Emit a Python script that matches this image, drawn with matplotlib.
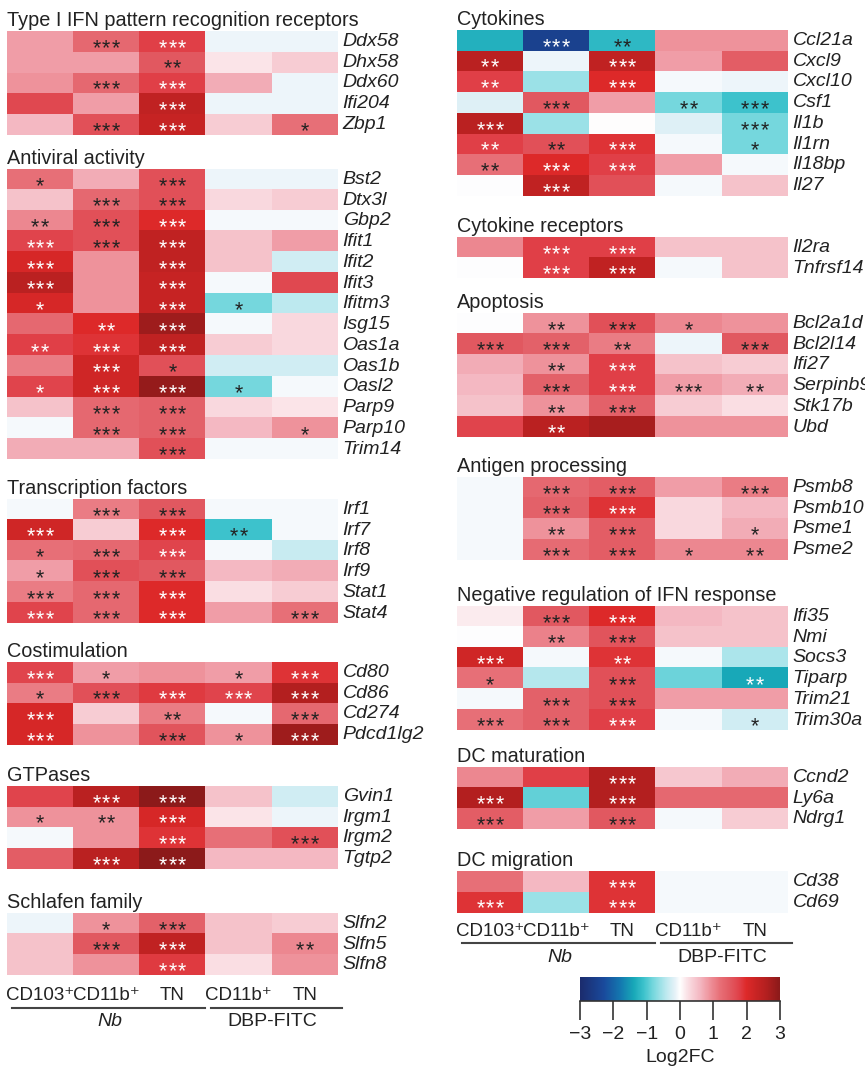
import matplotlib
matplotlib.use('Agg')
import matplotlib.pyplot as plt
import numpy as np
from matplotlib.colors import LinearSegmentedColormap

plt.rcParams['font.family'] = ['Liberation Sans', 'DejaVu Sans']

# columns: Nb CD103+, Nb CD11b+, Nb TN, DBP-FITC CD11b+, DBP-FITC TN
ifn_genes = ['Ddx58', 'Dhx58', 'Ddx60', 'Ifi204', 'Zbp1']
ifn_vals = [[0.8, 1.3, 1.8, -0.1, -0.1],
            [0.8, 0.8, 1.5, 0.2, 0.4],
            [0.9, 1.3, 1.8, 0.7, -0.1],
            [1.7, 0.8, 2.4, -0.1, -0.1],
            [0.6, 1.6, 2.3, 0.4, 1.2]]
ifn_stars = [[0, 3, 3, 0, 0], [0, 0, 2, 0, 0], [0, 3, 3, 0, 0], [0, 0, 3, 0, 0], [0, 3, 3, 0, 1]]

av_genes = ['Bst2', 'Dtx3l', 'Gbp2', 'Ifit1', 'Ifit2', 'Ifit3', 'Ifitm3', 'Isg15',
            'Oas1a', 'Oas1b', 'Oasl2', 'Parp9', 'Parp10', 'Trim14']
av_vals = [[1.2, 0.7, 1.6, -0.1, -0.1],
           [0.5, 1.3, 1.6, 0.3, 0.4],
           [1.0, 1.6, 2.0, -0.05, -0.05],
           [1.75, 1.6, 2.4, 0.5, 0.8],
           [2.1, 0.9, 2.4, 0.5, -0.3],
           [2.5, 0.9, 2.3, -0.05, 1.7],
           [2.1, 0.9, 2.3, -0.8, -0.4],
           [1.3, 2.0, 2.8, -0.05, 0.3],
           [1.8, 1.9, 2.4, 0.4, 0.3],
           [1.1, 2.2, 1.6, -0.3, -0.3],
           [1.75, 2.2, 2.9, -0.8, -0.05],
           [0.5, 1.3, 1.4, 0.3, 0.2],
           [-0.05, 1.3, 1.4, 0.6, 0.9],
           [0.7, 0.7, 1.6, -0.05, -0.05]]
av_stars = [[1, 0, 3, 0, 0], [0, 3, 3, 0, 0], [2, 3, 3, 0, 0], [3, 3, 3, 0, 0],
            [3, 0, 3, 0, 0], [3, 0, 3, 0, 0], [1, 0, 3, 1, 0], [0, 2, 3, 0, 0],
            [2, 3, 3, 0, 0], [0, 3, 1, 0, 0], [1, 3, 3, 1, 0], [0, 3, 3, 0, 0],
            [0, 3, 3, 0, 1], [0, 0, 3, 0, 0]]

tf_genes = ['Irf1', 'Irf7', 'Irf8', 'Irf9', 'Stat1', 'Stat4']
tf_vals = [[-0.05, 1.1, 1.5, -0.05, -0.05],
           [2.2, 0.4, 2.0, -1.1, -0.05],
           [1.2, 1.3, 1.75, -0.05, -0.35],
           [0.8, 1.6, 1.5, 0.6, 0.7],
           [1.1, 1.3, 2.0, 0.25, 0.4],
           [1.75, 1.3, 2.0, 0.8, 1.2]]
tf_stars = [[0, 3, 3, 0, 0], [3, 0, 3, 2, 0], [1, 3, 3, 0, 0],
            [1, 3, 3, 0, 0], [3, 3, 3, 0, 0], [3, 3, 3, 0, 3]]

co_genes = ['Cd80', 'Cd86', 'Cd274', 'Pdcd1lg2']
co_vals = [[1.75, 0.8, 0.9, 0.8, 1.9],
           [1.1, 1.6, 1.85, 1.75, 2.6],
           [2.1, 0.4, 1.1, -0.05, 1.3],
           [2.1, 0.9, 1.55, 0.9, 2.8]]
co_stars = [[3, 1, 0, 1, 3], [1, 3, 3, 3, 3], [3, 0, 2, 0, 3], [3, 0, 3, 1, 3]]

gtp_genes = ['Gvin1', 'Irgm1', 'Irgm2', 'Tgtp2']
gtp_vals = [[1.75, 2.5, 3.0, 0.5, -0.3],
            [0.9, 0.9, 2.1, 0.2, -0.1],
            [-0.05, 0.9, 1.9, 1.2, 1.6],
            [1.45, 2.5, 3.0, 0.6, 0.6]]
gtp_stars = [[0, 3, 3, 0, 0], [1, 2, 3, 0, 0], [0, 0, 3, 0, 3], [0, 3, 3, 0, 0]]

slfn_genes = ['Slfn2', 'Slfn5', 'Slfn8']
slfn_vals = [[-0.1, 0.9, 1.4, 0.5, 0.4],
             [0.5, 1.5, 2.4, 0.5, 1.0],
             [0.5, 0.9, 1.85, 0.25, 0.9]]
slfn_stars = [[0, 1, 3, 0, 0], [0, 3, 3, 0, 2], [0, 0, 3, 0, 0]]

cyt_genes = ['Ccl21a', 'Cxcl9', 'Cxcl10', 'Csf1', 'Il1b', 'Il1rn', 'Il18bp', 'Il27']
cyt_vals = [[-1.3, -2.5, -1.2, 0.9, 0.9],
            [2.5, -0.1, 2.4, 0.8, 1.45],
            [1.8, -0.6, 2.0, -0.05, -0.1],
            [-0.2, 1.5, 0.8, -0.8, -1.1],
            [2.5, -0.6, 0.0, -0.2, -0.8],
            [1.8, 1.6, 1.9, -0.05, -0.8],
            [1.2, 2.0, 1.8, 0.8, -0.05],
            [-0.02, 2.4, 1.6, -0.05, 0.5]]
cyt_stars = [[0, 3, 2, 0, 0], [2, 0, 3, 0, 0], [2, 0, 3, 0, 0], [0, 3, 0, 2, 3],
             [3, 0, 0, 0, 3], [2, 2, 3, 0, 1], [2, 3, 3, 0, 0], [0, 3, 0, 0, 0]]

rec_genes = ['Il2ra', 'Tnfrsf14']
rec_vals = [[1.0, 1.8, 1.8, 0.5, 0.5],
            [-0.02, 1.8, 2.4, -0.05, 0.5]]
rec_stars = [[0, 3, 3, 0, 0], [0, 3, 3, 0, 0]]

apo_genes = ['Bcl2a1d', 'Bcl2l14', 'Ifi27', 'Serpinb9', 'Stk17b', 'Ubd']
apo_vals = [[-0.02, 0.9, 1.6, 1.0, 0.9],
            [1.5, 1.4, 1.1, -0.1, 1.5],
            [0.7, 0.9, 1.8, 0.5, 0.4],
            [0.6, 1.4, 1.8, 0.8, 0.7],
            [0.5, 0.9, 1.4, 0.4, 0.25],
            [1.75, 2.5, 2.7, 0.9, 0.9]]
apo_stars = [[0, 2, 3, 1, 0], [3, 3, 2, 0, 3], [0, 2, 3, 0, 0],
             [0, 3, 3, 3, 2], [0, 2, 3, 0, 0], [0, 2, 0, 0, 0]]

ag_genes = ['Psmb8', 'Psmb10', 'Psme1', 'Psme2']
ag_vals = [[-0.05, 1.3, 1.45, 0.8, 1.1],
           [-0.05, 1.4, 1.9, 0.3, 0.6],
           [-0.05, 0.9, 1.45, 0.3, 0.7],
           [-0.05, 1.25, 1.45, 1.0, 1.0]]
ag_stars = [[0, 3, 3, 0, 3], [0, 3, 3, 0, 0], [0, 2, 3, 0, 1], [0, 3, 3, 1, 2]]

neg_genes = ['Ifi35', 'Nmi', 'Socs3', 'Tiparp', 'Trim21', 'Trim30a']
neg_vals = [[0.15, 1.5, 2.0, 0.6, 0.5],
            [-0.02, 1.05, 1.55, 0.5, 0.5],
            [2.2, -0.05, 1.9, -0.05, -0.5],
            [1.2, -0.45, 1.6, -0.85, -1.4],
            [-0.05, 1.4, 1.6, 0.8, 0.8],
            [1.2, 1.4, 1.8, -0.05, -0.3]]
neg_stars = [[0, 3, 3, 0, 0], [0, 2, 3, 0, 0], [3, 0, 2, 0, 0],
             [1, 0, 3, 0, 2], [0, 3, 3, 0, 0], [3, 3, 3, 0, 1]]

mat_genes = ['Ccnd2', 'Ly6a', 'Ndrg1']
mat_vals = [[1.0, 1.8, 2.6, 0.45, 0.7],
            [2.6, -0.9, 2.6, 1.3, 1.3],
            [1.45, 0.8, 1.5, -0.05, 0.4]]
mat_stars = [[0, 0, 3, 0, 0], [3, 0, 3, 0, 0], [3, 0, 3, 0, 0]]

mig_genes = ['Cd38', 'Cd69']
mig_vals = [[1.2, 0.6, 1.9, -0.05, -0.05],
            [1.9, -0.6, 1.9, -0.05, -0.05]]
mig_stars = [[0, 0, 3, 0, 0], [3, 0, 3, 0, 0]]

col_labels = ['CD103\u207a', 'CD11b\u207a', 'TN', 'CD11b\u207a', 'TN']
cbar_ticks = [-3, -2, -1, 0, 1, 2, 3]

# colour scale
nodes = [(-3.0, '#1c2c6e'), (-2.3, '#1a4a9c'), (-1.8, '#1478b0'), (-1.4, '#18a8b8'),
         (-1.1, '#3cc2cc'), (-0.8, '#78d8de'), (-0.4, '#c0eaf0'), (-0.15, '#e6f2f8'),
         (0.0, '#ffffff'), (0.3, '#f9d8de'), (0.6, '#f4b8c2'), (0.9, '#ef939c'),
         (1.2, '#e87078'), (1.5, '#e25a62'), (1.8, '#e04048'), (2.0, '#de2a2a'),
         (2.3, '#c82424'), (2.6, '#b42020'), (3.0, '#8c1a1a')]
cmap = LinearSegmentedColormap.from_list('l2fc', [((v + 3) / 6, c) for v, c in nodes])

W, H = 865, 1067
ROW = 20.75
COLW = 66.2
STAR_FS = 15.5
STAR_STEP = 9.6 / COLW
fig = plt.figure(figsize=(W / 100, H / 100), dpi=100)
TXT = '#222222'


def fx(x):
    return x / W


def fy(y):
    return 1 - y / H


def add_panel(title, genes, vals, stars, left, top):
    n = len(genes)
    h = n * ROW
    ax = fig.add_axes([fx(left), fy(top + h), 5 * COLW / W, h / H])
    ax.imshow(np.array(vals), cmap=cmap, vmin=-3, vmax=3, aspect='auto',
              extent=(0, 5, n, 0), interpolation='nearest')
    ax.set_xlim(0, 5)
    ax.set_ylim(n, 0)
    ax.axis('off')
    # asterisk glyph sits ~0.58 em above the baseline
    off = 0.58 * STAR_FS * 100 / 72 / ROW
    for i in range(n):
        for j in range(5):
            s = stars[i][j]
            if s:
                v = vals[i][j]
                c = 'white' if (v >= 1.7 or v <= -1.3) else TXT
                for k in range(s):
                    ax.text(j + 0.5 + (k - (s - 1) / 2) * STAR_STEP, i + 0.5 + off, '*',
                            ha='center', va='baseline', fontsize=STAR_FS, color=c)
        ax.text(5.07, i + 0.5, genes[i], ha='left', va='center', fontsize=14,
                style='italic', color=TXT, clip_on=False)
    fig.text(fx(left), fy(top - 5), title, ha='left', va='baseline',
             fontsize=14.3, color=TXT)


def add_columns(left, y_lab, y_line):
    for j, lab in enumerate(col_labels):
        fig.text(fx(left + (j + 0.5) * COLW), fy(y_lab), lab, ha='center',
                 va='center', fontsize=13.5, color=TXT)
    for x0, x1 in [(left + 5, left + 3 * COLW - 1), (left + 3 * COLW + 5, left + 5 * COLW + 4)]:
        fig.add_artist(plt.Line2D([fx(x0), fx(x1)], [fy(y_line), fy(y_line)],
                                  color='#444444', lw=1.5))
    fig.text(fx(left + 1.55 * COLW), fy(y_line + 14), 'Nb', ha='center', va='center',
             fontsize=14, style='italic', color=TXT)
    fig.text(fx(left + 4.0 * COLW), fy(y_line + 14), 'DBP-FITC', ha='center',
             va='center', fontsize=14, color=TXT)


L, R = 7, 457
add_panel('Type I IFN pattern recognition receptors', ifn_genes, ifn_vals, ifn_stars, L, 31)
add_panel('Antiviral activity', av_genes, av_vals, av_stars, L, 169)
add_panel('Transcription factors', tf_genes, tf_vals, tf_stars, L, 499)
add_panel('Costimulation', co_genes, co_vals, co_stars, L, 662)
add_panel('GTPases', gtp_genes, gtp_vals, gtp_stars, L, 786)
add_panel('Schlafen family', slfn_genes, slfn_vals, slfn_stars, L, 913)
add_columns(L, 995, 1008)

add_panel('Cytokines', cyt_genes, cyt_vals, cyt_stars, R, 30)
add_panel('Cytokine receptors', rec_genes, rec_vals, rec_stars, R, 237)
add_panel('Apoptosis', apo_genes, apo_vals, apo_stars, R, 313)
add_panel('Antigen processing', ag_genes, ag_vals, ag_stars, R, 477)
add_panel('Negative regulation of IFN response', neg_genes, neg_vals, neg_stars, R, 606)
add_panel('DC maturation', mat_genes, mat_vals, mat_stars, R, 767)
add_panel('DC migration', mig_genes, mig_vals, mig_stars, R, 871)
add_columns(R, 932, 943)

# colour bar
cax = fig.add_axes([fx(580), fy(1001), 200 / W, 24 / H])
grad = np.linspace(-3, 3, 400).reshape(1, -1)
cax.imshow(grad, cmap=cmap, vmin=-3, vmax=3, aspect='auto', extent=(-3, 3, 0, 1))
cax.set_xlim(-3, 3)
cax.set_yticks([])
cax.set_xticks(cbar_ticks)
cax.set_xticklabels([('\u2212%d' % -t) if t < 0 else str(t) for t in cbar_ticks],
                    fontsize=14, color=TXT)
cax.tick_params(axis='x', length=14, width=1.2, color='#333333', pad=4)
for side in ['top', 'left', 'right']:
    cax.spines[side].set_visible(False)
cax.spines['bottom'].set_color('#333333')
cax.spines['bottom'].set_linewidth(1.2)
fig.text(fx(680), fy(1057), 'Log2FC', ha='center', va='center', fontsize=14, color=TXT)

plt.savefig('out.png', dpi=100)
